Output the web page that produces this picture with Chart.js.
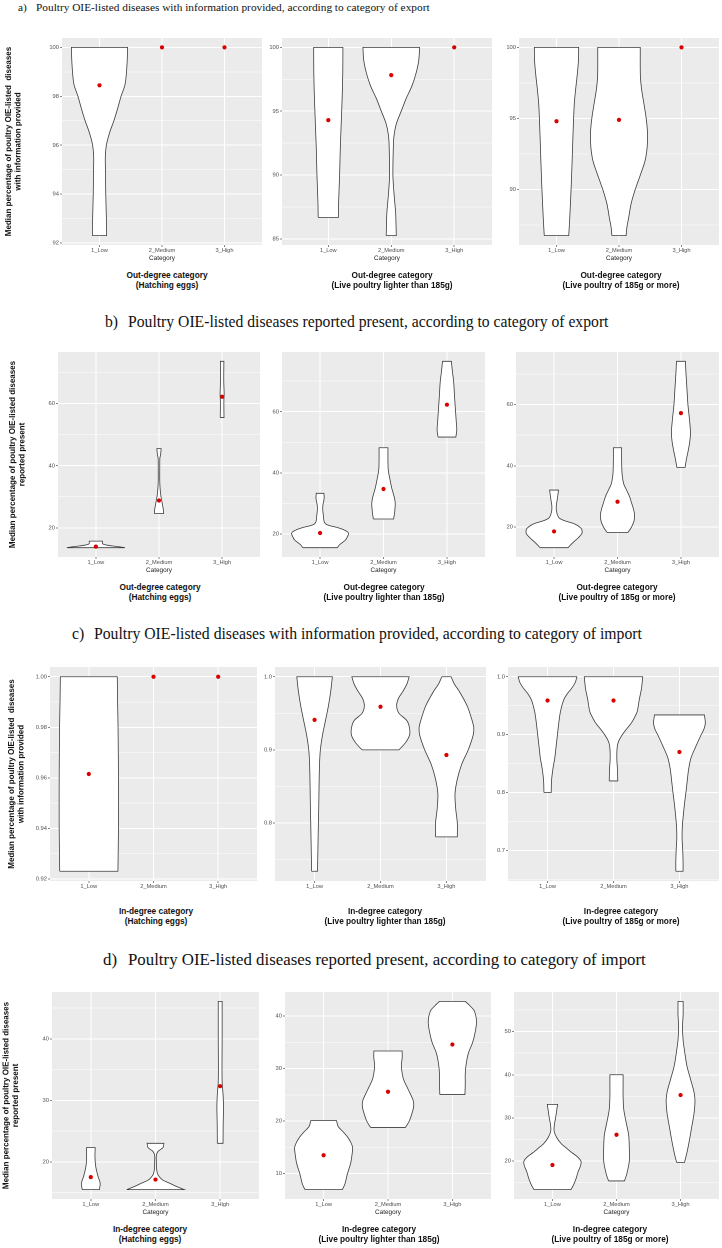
<!DOCTYPE html>
<html>
<head>
<meta charset="utf-8">
<script src="https://cdn.jsdelivr.net/npm/chart.js@4.4.0/dist/chart.umd.min.js"></script>
<style>
html, body { margin: 0; padding: 0; background: #fff; }
body { width: 722px; height: 1248px; position: relative; overflow: hidden; font-family: "Liberation Sans", Arial, sans-serif; }
.sec { position: absolute; font-family: "Liberation Serif", "Times New Roman", serif; color: #111; white-space: nowrap; line-height: 1; }
.cap { position: absolute; font-weight: bold; font-size: 8.3px; line-height: 10.5px; text-align: center; white-space: nowrap; color: #111; transform: translateX(-50%); }
canvas { position: absolute; }
</style>
</head>
<body>
<script>
// categories on every x axis
const categories = ['1_Low', '2_Medium', '3_High'];

// violin outlines: [value, half width in category units], bottom to top
// a) information provided, by export category
const yTicksA1 = ['92', '94', '96', '98', '100'];
const medA1 = [98.45, 100, 100];
const violA1 = [
  [[92.3, 0.114], [93, 0.11], [94, 0.1], [95, 0.095], [95.5, 0.093], [96, 0.11], [96.5, 0.16], [97, 0.23], [97.5, 0.29], [98, 0.345], [98.5, 0.41], [99.3, 0.44], [100, 0.45]],
  [],
  []
];
const yTicksA2 = ['85', '90', '95', '100'];
const medA2 = [94.3, 97.83, 100];
const violA2 = [
  [[86.67, 0.16], [88, 0.165], [90, 0.18], [92, 0.19], [94, 0.205], [96, 0.22], [98, 0.23], [100, 0.232]],
  [[85.25, 0.08], [87, 0.07], [88, 0.053], [89, 0.037], [90, 0.026], [92, 0.032], [93, 0.042], [94, 0.08], [95, 0.158], [96, 0.237], [97, 0.33], [98, 0.395], [99, 0.437], [100, 0.45]],
  []
];
const yTicksA3 = ['90', '95', '100'];
const medA3 = [94.8, 94.9, 100];
const violA3 = [
  [[86.75, 0.196], [88, 0.212], [90, 0.233], [92, 0.25], [94, 0.265], [96, 0.284], [97, 0.305], [98, 0.33], [99, 0.35], [100, 0.355]],
  [[86.75, 0.114], [87.3, 0.125], [88, 0.154], [89, 0.194], [90, 0.26], [91, 0.34], [92, 0.416], [93, 0.451], [94, 0.456], [95, 0.435], [96, 0.4], [97, 0.363], [98, 0.342], [100, 0.34]],
  []
];

// b) reported present, by export category
const yTicksB1 = ['20', '40', '60'];
const medB1 = [13.95, 28.8, 62.2];
const violB1 = [
  [[13.6, 0.46], [13.85, 0.38], [14.1, 0.28], [14.4, 0.18], [14.7, 0.12], [15.0, 0.105], [15.7, 0.105]],
  [[24.6, 0.074], [25.7, 0.07], [27.8, 0.052], [30, 0.032], [32, 0.02], [35, 0.012], [40, 0.012], [42.5, 0.014], [43.5, 0.025], [45.5, 0.034]],
  [[55.5, 0.03], [58, 0.028], [61, 0.028], [63, 0.032], [64.5, 0.03], [67, 0.026], [70, 0.026], [73.6, 0.028]]
];
const yTicksB2 = ['20', '40', '60'];
const medB2 = [20.3, 34.7, 62.3];
const violB2 = [
  [[15.5, 0.27], [16.5, 0.31], [18, 0.4], [19.5, 0.44], [20.2, 0.45], [21, 0.41], [22, 0.29], [23, 0.11], [24, 0.065], [26, 0.052], [28, 0.042], [29.5, 0.045], [31, 0.06], [32, 0.065], [33.3, 0.06]],
  [[24.9, 0.16], [27, 0.175], [30, 0.185], [32, 0.17], [35, 0.13], [38, 0.1], [41, 0.075], [44, 0.07], [48.2, 0.07]],
  [[51.7, 0.14], [54, 0.155], [57, 0.146], [60, 0.136], [65, 0.12], [70, 0.105], [73, 0.087], [76.5, 0.07]]
];
const yTicksB3 = ['20', '40', '60'];
const medB3 = [18.6, 28.3, 57.2];
const violB3 = [
  [[13.3, 0.22], [15, 0.3], [16.5, 0.38], [18, 0.44], [19.5, 0.43], [21, 0.33], [22, 0.18], [23, 0.08], [25, 0.04], [27, 0.035], [29, 0.05], [30.5, 0.06], [32.1, 0.07]],
  [[18.3, 0.165], [20, 0.22], [22, 0.26], [24, 0.27], [26, 0.25], [28, 0.22], [30, 0.19], [32, 0.145], [34, 0.1], [36, 0.08], [38, 0.07], [42, 0.065], [45.9, 0.065]],
  [[39.5, 0.065], [42, 0.085], [45, 0.115], [48, 0.14], [51, 0.15], [55, 0.135], [60, 0.11], [65, 0.095], [70, 0.08], [74.1, 0.07]]
];

// c) information provided, by import category (proportion)
const yTicksC1 = ['0.92', '0.94', '0.96', '0.98', '1.00'];
const medC1 = [0.9615, 1.0, 1.0];
const violC1 = [
  [[0.923, 0.45], [0.94, 0.458], [0.96, 0.458], [0.98, 0.452], [0.99, 0.445], [1.0, 0.44]],
  [],
  []
];
const yTicksC2 = ['0.8', '0.9', '1.0'];
const medC2 = [0.941, 0.959, 0.893];
const violC2 = [
  [[0.734, 0.045], [0.75, 0.048], [0.77, 0.052], [0.8, 0.058], [0.82, 0.063], [0.85, 0.068], [0.88, 0.075], [0.9, 0.088], [0.92, 0.12], [0.94, 0.165], [0.96, 0.21], [0.98, 0.245], [1.0, 0.27]],
  [[0.9, 0.28], [0.91, 0.38], [0.92, 0.44], [0.93, 0.44], [0.94, 0.4], [0.95, 0.28], [0.96, 0.245], [0.97, 0.27], [0.98, 0.34], [0.99, 0.4], [1.0, 0.435]],
  [[0.781, 0.165], [0.8, 0.165], [0.82, 0.14], [0.84, 0.13], [0.86, 0.165], [0.88, 0.23], [0.9, 0.33], [0.92, 0.405], [0.93, 0.415], [0.94, 0.39], [0.96, 0.315], [0.98, 0.195], [0.99, 0.12], [1.0, 0.07]]
];
const yTicksC3 = ['0.7', '0.8', '0.9', '1.0'];
const medC3 = [0.959, 0.959, 0.87];
const violC3 = [
  [[0.8, 0.055], [0.82, 0.06], [0.84, 0.08], [0.86, 0.11], [0.88, 0.13], [0.9, 0.15], [0.92, 0.17], [0.94, 0.196], [0.96, 0.245], [0.97, 0.295], [0.98, 0.365], [0.99, 0.42], [1.0, 0.445]],
  [[0.82, 0.065], [0.84, 0.06], [0.86, 0.05], [0.88, 0.058], [0.89, 0.083], [0.9, 0.135], [0.91, 0.2], [0.92, 0.27], [0.93, 0.32], [0.94, 0.36], [0.96, 0.39], [0.98, 0.425], [1.0, 0.443]],
  [[0.664, 0.055], [0.68, 0.055], [0.7, 0.05], [0.72, 0.04], [0.74, 0.043], [0.76, 0.058], [0.78, 0.076], [0.8, 0.098], [0.82, 0.118], [0.84, 0.139], [0.86, 0.176], [0.88, 0.25], [0.9, 0.33], [0.91, 0.373], [0.92, 0.393], [0.934, 0.378]]
];

// d) reported present, by import category
const yTicksD1 = ['20', '30', '40'];
const medD1 = [17.5, 17.1, 32.3];
const violD1 = [
  [[15.47, 0.133], [16.5, 0.145], [17.5, 0.115], [18.5, 0.09], [19.5, 0.072], [21, 0.064], [22.3, 0.068]],
  [[15.47, 0.445], [16, 0.32], [16.5, 0.22], [17, 0.115], [17.5, 0.064], [18, 0.033], [19, 0.015], [20, 0.013], [21, 0.013], [21.7, 0.04], [22.3, 0.115], [23, 0.13]],
  [[23.0, 0.044], [26, 0.046], [29, 0.051], [31, 0.044], [33, 0.03], [36, 0.028], [40, 0.03], [44, 0.03], [46.1, 0.03]]
];
const yTicksD2 = ['10', '20', '30', '40'];
const medD2 = [13.5, 25.6, 34.6];
const violD2 = [
  [[6.96, 0.29], [8, 0.33], [10, 0.37], [12, 0.42], [14, 0.445], [15, 0.45], [16, 0.42], [17, 0.37], [18, 0.3], [19, 0.225], [20.1, 0.2]],
  [[18.8, 0.27], [20, 0.33], [22, 0.385], [23, 0.4], [24, 0.39], [26, 0.315], [28, 0.24], [30, 0.21], [31, 0.21], [32, 0.22], [33.35, 0.22]],
  [[25.06, 0.195], [27, 0.2], [29, 0.2], [31, 0.216], [33, 0.25], [35, 0.315], [37, 0.355], [39, 0.375], [41, 0.34], [42, 0.27], [42.8, 0.2]]
];
const yTicksD3 = ['20', '30', '40', '50'];
const medD3 = [19.1, 26.1, 35.3];
const violD3 = [
  [[13.4, 0.29], [14.5, 0.33], [16, 0.37], [17.5, 0.4], [19, 0.44], [20, 0.445], [21, 0.39], [22, 0.3], [23, 0.22], [24, 0.14], [25.5, 0.065], [27, 0.026], [28.5, 0.031], [30, 0.049], [31.5, 0.064], [33.15, 0.08]],
  [[15.4, 0.124], [17, 0.16], [20, 0.2], [23, 0.2], [26, 0.19], [29, 0.15], [32, 0.113], [35, 0.103], [38, 0.103], [40, 0.103]],
  [[19.7, 0.062], [22, 0.1], [25, 0.14], [28, 0.175], [31, 0.21], [34, 0.225], [36, 0.21], [39, 0.155], [42, 0.1], [45, 0.067], [48, 0.04], [51, 0.03], [54, 0.04], [57, 0.04]]
];

const titleInfo = ['Median percentage of poultry OIE-listed  diseases', 'with information provided'];
const titlePresent = ['Median percentage of poultry OIE-listed diseases', 'reported present'];
const capOut = 'Out-degree category';
const capIn = 'In-degree category';
const capTypes = ['(Hatching eggs)', '(Live poultry lighter than 185g)', '(Live poultry of 185g or more)'];

const sections = [
  { lab: 'a)', text: 'Poultry OIE-listed diseases with information provided, according to category of export', x0: 18, x1: 36, x2: 430, cy: 8 },
  { lab: 'b)', text: 'Poultry OIE-listed diseases reported present, according to category of export', x0: 105, x1: 128, x2: 609, cy: 323 },
  { lab: 'c)', text: 'Poultry OIE-listed diseases with information provided, according to category of import', x0: 72, x1: 94, x2: 642, cy: 635 },
  { lab: 'd)', text: 'Poultry OIE-listed diseases reported present, according to category of import', x0: 103, x1: 128, x2: 646, cy: 961 }
];

// panel placement: gray plot box [left, top, right, bottom] in page pixels
const panels = [
  { viol: violA1, med: medA1, ticks: yTicksA1, box: [62, 38, 263, 245], yTitle: titleInfo, yTitleX: 9, cat: true, cap: [capOut, capTypes[0]], capX: 167 },
  { viol: violA2, med: medA2, ticks: yTicksA2, box: [282, 38, 493, 245], xMin: 0.265, cat: true, cap: [capOut, capTypes[1]], capX: 392 },
  { viol: violA3, med: medA3, ticks: yTicksA3, box: [519, 38, 720, 245], cat: true, cap: [capOut, capTypes[2]], capX: 621 },
  { viol: violB1, med: medB1, ticks: yTicksB1, box: [58, 352, 261, 557], yTitle: titlePresent, yTitleX: 13, cat: true, cap: [capOut, capTypes[0]], capX: 160 },
  { viol: violB2, med: medB2, ticks: yTicksB2, box: [282, 352, 486, 557], cat: true, cap: [capOut, capTypes[1]], capX: 384 },
  { viol: violB3, med: medB3, ticks: yTicksB3, box: [516, 352, 720, 557], cat: true, cap: [capOut, capTypes[2]], capX: 617 },
  { viol: violC1, med: medC1, ticks: yTicksC1, box: [50, 667, 258, 881], yTitle: titleInfo, yTitleX: 12, cat: false, cap: [capIn, capTypes[0]], capX: 156 },
  { viol: violC2, med: medC2, ticks: yTicksC2, box: [275, 667, 487, 881], cat: false, cap: [capIn, capTypes[1]], capX: 385 },
  { viol: violC3, med: medC3, ticks: yTicksC3, box: [508, 667, 720, 881], cat: false, cap: [capIn, capTypes[2]], capX: 621 },
  { viol: violD1, med: medD1, ticks: yTicksD1, box: [52, 992, 260, 1199], yTitle: titlePresent, yTitleX: 6.5, cat: true, cap: [capIn, capTypes[0]], capX: 150 },
  { viol: violD2, med: medD2, ticks: yTicksD2, box: [285, 992, 492, 1199], cat: true, cap: [capIn, capTypes[1]], capX: 379 },
  { viol: violD3, med: medD3, ticks: yTicksD3, box: [514, 992, 720, 1199], cat: true, cap: [capIn, capTypes[2]], capX: 610 }
];

Chart.defaults.font.family = '"Liberation Sans", Arial, sans-serif';
Chart.defaults.animation = false;

const panelBg = {
  id: 'panelBg',
  beforeDraw(chart) {
    const a = chart.chartArea, ctx = chart.ctx;
    ctx.save();
    ctx.fillStyle = '#EBEBEB';
    ctx.fillRect(a.left, a.top, a.right - a.left, a.bottom - a.top);
    ctx.restore();
  }
};

// section headings, sized so the text spans the same width as in the figure
const meas = document.createElement('canvas').getContext('2d');
meas.font = '100px "Liberation Serif"';
sections.forEach(s => {
  const size = 100 * (s.x2 - s.x1) / meas.measureText(s.text).width;
  [[s.lab, s.x0], [s.text, s.x1]].forEach(([t, x]) => {
    const d = document.createElement('div');
    d.className = 'sec';
    d.textContent = t;
    d.style.fontSize = size + 'px';
    d.style.left = x + 'px';
    d.style.top = (s.cy - size * 0.55) + 'px';
    document.body.appendChild(d);
  });
});

const PT = 6, PR = 3, XH = 18, LH = 9.5;

panels.forEach(p => {
  const [gl, gt, gr, gb] = p.box;
  const YW = p.yTitle ? gl : 24;

  const cv = document.createElement('canvas');
  const w = YW + (gr - gl) + PR, h = PT + (gb - gt) + XH;
  cv.width = w; cv.height = h;
  cv.style.left = (gl - YW) + 'px';
  cv.style.top = (gt - PT) + 'px';
  cv.style.width = w + 'px';
  cv.style.height = h + 'px';
  document.body.appendChild(cv);

  // ggplot-like limits: data range plus 5% each side
  const ys = p.viol.flat().map(d => d[0]).concat(p.med);
  const lo = Math.min(...ys), hi = Math.max(...ys), pad = (hi - lo) * 0.05;
  const ymin = lo - pad, ymax = hi + pad;

  const major = p.ticks.map(Number);
  const step = major[1] - major[0];
  const eps = step * 1e-3;
  const minor = [];
  for (let v = major[0] - step / 2; v <= major[major.length - 1] + step / 2 + eps; v += step) {
    if (v >= ymin && v <= ymax) minor.push(v);
  }
  const allTicks = major.concat(minor).filter(v => v >= ymin && v <= ymax).sort((a, b) => a - b);
  const isMajor = v => major.some(m => Math.abs(m - v) < eps);

  const datasets = [{
    data: p.med.map((y, i) => ({ x: i + 1, y })),
    pointRadius: 2.1,
    pointBackgroundColor: '#D80000',
    pointBorderWidth: 0,
    showLine: false,
    order: 0
  }];
  p.viol.forEach((prof, i) => {
    if (!prof.length) return;
    const c = i + 1;
    const left = prof.map(([y, hw]) => ({ x: c - hw, y }));
    const right = prof.slice().reverse().map(([y, hw]) => ({ x: c + hw, y }));
    const n = left.length;
    // corners repeated so the smoothed outline keeps flat top and bottom edges
    const outline = [...left, left[n - 1], right[0], ...right, right[n - 1], left[0]];
    datasets.push({
      data: outline,
      showLine: true,
      fill: 'shape',
      backgroundColor: '#FFFFFF',
      borderColor: '#3C3C3C',
      borderWidth: 0.8,
      pointRadius: 0,
      tension: 0.3,
      order: 1
    });
  });

  new Chart(cv, {
    type: 'scatter',
    data: { datasets },
    plugins: [panelBg],
    options: {
      responsive: false,
      devicePixelRatio: 2,
      layout: { padding: { top: PT, right: PR, left: 0, bottom: 0 } },
      plugins: { legend: { display: false }, tooltip: { enabled: false } },
      scales: {
        x: {
          type: 'linear', min: p.xMin || 0.4, max: 3.6,
          afterBuildTicks: s => { s.ticks = categories.map((_, i) => ({ value: i + 1 })); },
          afterFit: s => { s.height = XH; },
          ticks: { callback: v => categories[Math.round(v) - 1], font: { size: 5.7 }, color: '#4D4D4D', padding: 0, maxRotation: 0, autoSkip: false },
          grid: { color: '#FFFFFF', lineWidth: 1, tickLength: 2, tickColor: '#333333', tickWidth: 0.6 },
          border: { display: false },
          title: { display: p.cat, text: 'Category', font: { size: 6.4 }, color: '#222', padding: { top: 0, bottom: 0.7 } }
        },
        y: {
          type: 'linear', min: ymin, max: ymax,
          afterBuildTicks: s => { s.ticks = allTicks.map(v => ({ value: v })); },
          afterFit: s => { s.width = YW; },
          ticks: {
            callback: v => { const k = major.findIndex(m => Math.abs(m - v) < eps); return k >= 0 ? p.ticks[k] : ''; },
            font: { size: 5.8 }, color: '#4D4D4D', padding: 1, autoSkip: false
          },
          grid: {
            color: '#FFFFFF',
            lineWidth: ctx => (isMajor(ctx.tick.value) ? 1 : 0.5),
            tickLength: 2,
            tickColor: ctx => (isMajor(ctx.tick.value) ? '#333333' : 'rgba(0,0,0,0)'),
            tickWidth: 0.6
          },
          border: { display: false },
          title: {
            display: !!p.yTitle,
            text: p.yTitle || '',
            font: { size: 8, weight: 'bold', lineHeight: LH / 8 },
            color: '#111',
            padding: { top: (p.yTitleX || 0) - LH / 2, bottom: 0 }
          }
        }
      }
    }
  });

  const cap = document.createElement('div');
  cap.className = 'cap';
  cap.innerHTML = p.cap[0] + '<br>' + p.cap[1];
  cap.style.left = p.capX + 'px';
  cap.style.top = (gb + 30 - 5.25) + 'px';
  document.body.appendChild(cap);
});
</script>
</body>
</html>
